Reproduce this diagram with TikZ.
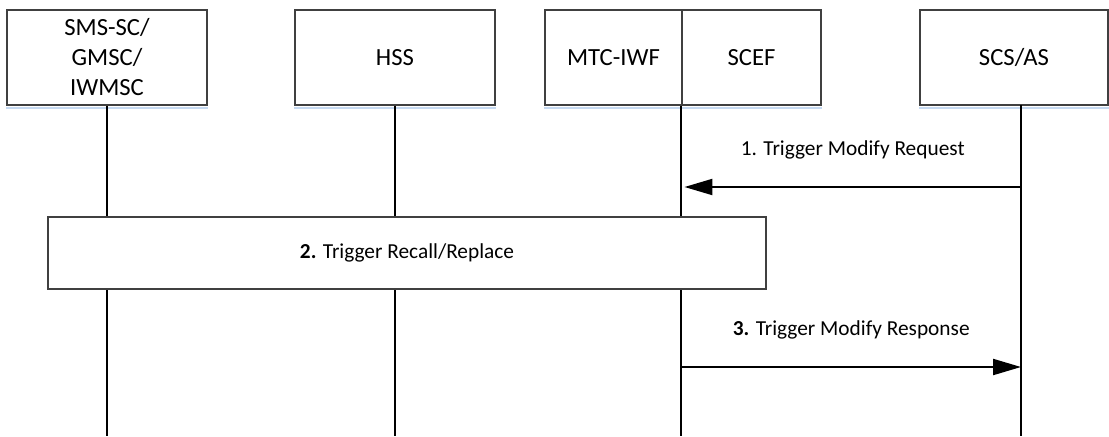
\documentclass[tikz,border=0pt]{standalone}
\usepackage{fontspec}
\setmainfont{Carlito}
\usetikzlibrary{arrows.meta,positioning,calc}

\definecolor{shadowblue}{RGB}{197,217,241}

\begin{document}
\begin{tikzpicture}[x=0.75pt, y=-0.75pt,
    entity/.style={draw=black!75, line width=0.8pt, minimum height=71.25pt, inner sep=0pt, align=center, font=\fontsize{18.5}{22.5}\selectfont},
    proc/.style={draw=black!75, line width=0.8pt, fill=white, minimum width=538.5pt, minimum height=54pt, align=center, font=\fontsize{16}{18}\selectfont},
    life/.style={line width=1.5pt, black},
    shade/.style={line width=1.5pt, shadowblue},
    arr/.style={-{Triangle[length=21pt, width=12pt]}, line width=1.6pt},
    lbl/.style={midway, yshift=27.75pt, font=\fontsize{16}{18}\selectfont}
]
\useasboundingbox (0,0) rectangle (1109,436);

% header entities
\node[entity, minimum width=150pt] (sms) at (107,57.5) {SMS-SC/\\GMSC/\\IWMSC};
\node[entity, minimum width=150pt] (hss) at (395,57.5) {HSS};
\node[entity, minimum width=102.75pt] (mtc) at (613.5,57.5) {MTC-IWF};
\node[entity, minimum width=104.25pt] (scef) at (751.5,57.5) {SCEF};
\node[entity, minimum width=141pt] (scs) at (1014,57.5) {SCS/AS};

\foreach \n in {sms,hss,mtc,scef,scs}
  \draw[shade] ([yshift=-1.6pt]\n.south west) -- ([yshift=-1.6pt]\n.south east);

% lifelines
\coordinate (smsB) at (107,436);
\coordinate (hssB) at (395,436);
\coordinate (scefB) at (scef.south west |- smsB);
\coordinate (scsT) at (1021,105);
\coordinate (scsB) at (1021,436);
\draw[life] (sms.south) -- (smsB);
\draw[life] (hss.south) -- (hssB);
\draw[life] (scef.south west) -- (scefB);
\draw[life] (scsT) -- (scsB);

% messages
\coordinate (m1a) at (1021,187);
\coordinate (m1b) at ($(scef.south west |- m1a)+(3,0)$);
\draw[arr] (m1a) -- node[lbl] {1. Trigger Modify Request} (m1b);

\node[proc] (trig) at (407,253) {\textbf{2.} Trigger Recall/Replace};

\coordinate (m3a) at (scef.south west |- 0,367);
\coordinate (m3b) at (1021,367);
\draw[arr] (m3a) -- node[lbl] {\textbf{3.} Trigger Modify Response} (m3b);
\end{tikzpicture}
\end{document}
